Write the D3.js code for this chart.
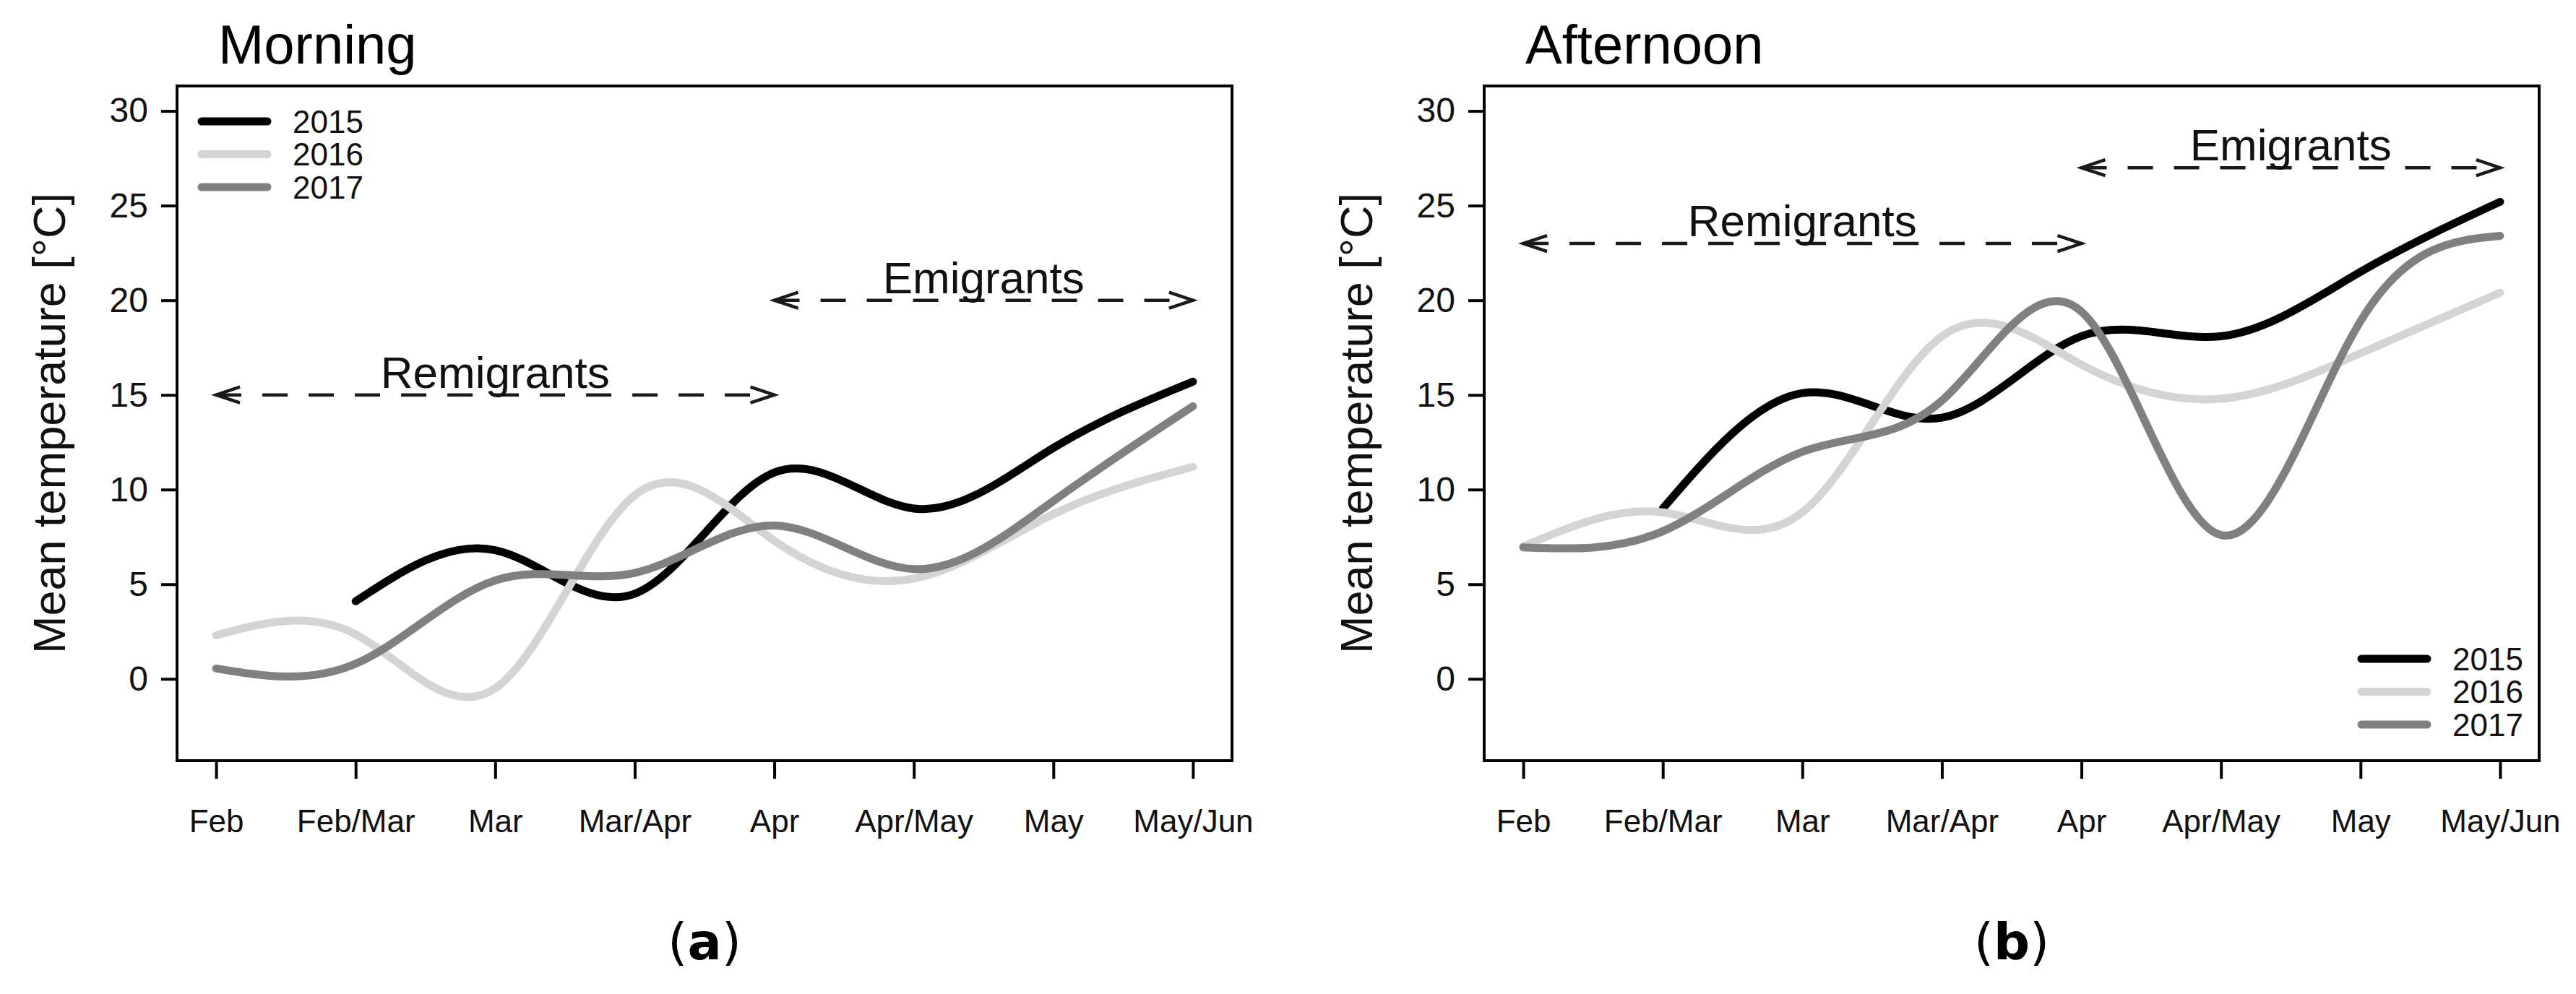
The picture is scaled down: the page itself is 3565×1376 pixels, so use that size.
<!DOCTYPE html>
<html>
<head>
<meta charset="utf-8">
<script src="https://cdn.jsdelivr.net/npm/d3@7"></script>
<style>
  html, body { margin: 0; padding: 0; background: #fff; }
  svg { display: block; }
</style>
</head>
<body>
<svg id="chart" width="3565" height="1376"></svg>
<script>
// ---------- data ----------
const categories = ["Feb", "Feb/Mar", "Mar", "Mar/Apr", "Apr", "Apr/May", "May", "May/Jun"];
const years = ["2015", "2016", "2017"];
const yTicks = [0, 5, 10, 15, 20, 25, 30];

const morning2015 = [null, 4.1, 6.8, 4.5, 10.9, 9.0, 12.2, 15.7];
const morning2016 = [2.3, 2.35, -0.5, 9.7, 7.3, 5.3, 8.7, 11.2];
const morning2017 = [0.55, 0.8, 5.2, 5.6, 8.1, 5.8, 9.4, 14.4];

const afternoon2015 = [null, 9.0, 15.1, 13.8, 18.1, 18.1, 21.5, 25.2];
const afternoon2016 = [7.0, 8.8, 8.8, 18.1, 16.6, 14.8, 17.2, 20.4];
const afternoon2017 = [6.95, 7.8, 12.0, 14.7, 19.4, 7.6, 18.9, 23.4];

// annotation arrows: [label, fromCategory, toCategory, yValue]
const morningArrows = [["Remigrants", "Feb", "Apr", 15], ["Emigrants", "Apr", "May/Jun", 20]];
const afternoonArrows = [["Remigrants", "Feb", "Apr", 23], ["Emigrants", "Apr", "May/Jun", 27]];

const yearColors = ["#000000", "#d4d4d4", "#808080"];

// ---------- drawing ----------
const svg = d3.select("#chart");
const FONT = "'Liberation Sans', Arial, Helvetica, sans-serif";

const panels = [
  { title: "Morning", tag: "a", x0: 245, series: [morning2015, morning2016, morning2017],
    arrows: morningArrows, legend: "topleft" },
  { title: "Afternoon", tag: "b", x0: 2054, series: [afternoon2015, afternoon2016, afternoon2017],
    arrows: afternoonArrows, legend: "bottomright" }
];

const boxW = 1460, boxTop = 119, boxBottom = 1053;

panels.forEach(p => {
  const g = svg.append("g");
  const x = d3.scalePoint().domain(categories).range([p.x0, p.x0 + boxW]).padding(0.28);
  const y = d3.scaleLinear().domain([-4.32, 31.32]).range([boxBottom, boxTop]);

  // title
  g.append("text")
    .attr("x", p.x0 + 57).attr("y", 88)
    .attr("font-family", FONT).attr("font-size", 76).attr("fill", "#000")
    .text(p.title);

  // y axis
  const yAxis = g.append("g")
    .attr("transform", `translate(${p.x0},0)`)
    .call(d3.axisLeft(y).tickValues(yTicks).tickSize(22).tickPadding(18));
  yAxis.select(".domain").remove();
  yAxis.selectAll(".tick line").attr("stroke", "#000").attr("stroke-width", 4);
  yAxis.selectAll(".tick text")
    .attr("font-family", FONT).attr("font-size", 48).attr("fill", "#111");

  // x axis
  const xAxis = g.append("g")
    .attr("transform", `translate(0,${boxBottom})`)
    .call(d3.axisBottom(x).tickSize(25).tickPadding(0));
  xAxis.select(".domain").remove();
  xAxis.selectAll(".tick line").attr("stroke", "#000").attr("stroke-width", 4);
  xAxis.selectAll(".tick text")
    .attr("font-family", FONT).attr("font-size", 44).attr("fill", "#111")
    .attr("y", 99).attr("dy", 0);

  // y label
  g.append("text")
    .attr("transform", `translate(${p.x0 - 177},${(boxTop + boxBottom) / 2}) rotate(-90)`)
    .attr("text-anchor", "middle").attr("dominant-baseline", "central")
    .attr("font-family", FONT).attr("font-size", 63).attr("fill", "#111")
    .text("Mean temperature [°C]");

  // series lines
  const line = d3.line()
    .x(d => x(d.c)).y(d => y(d.v))
    .curve(d3.curveNatural);
  p.series.forEach((vals, i) => {
    const pts = categories.map((c, k) => ({ c, v: vals[k] })).filter(d => d.v !== null);
    g.append("path")
      .attr("d", line(pts))
      .attr("fill", "none").attr("stroke", yearColors[i])
      .attr("stroke-width", 11).attr("stroke-linecap", "round").attr("stroke-linejoin", "round");
  });

  // annotation arrows
  p.arrows.forEach(([label, from, to, v]) => {
    const xa = x(from), xb = x(to), yy = y(v);
    g.append("line")
      .attr("x1", xa).attr("x2", xb).attr("y1", yy).attr("y2", yy)
      .attr("stroke", "#1a1a1a").attr("stroke-width", 4.5).attr("stroke-dasharray", "35,29");
    const hl = 33, hh = 11;
    g.append("path")
      .attr("d", `M${xa + hl},${yy - hh}L${xa},${yy}L${xa + hl},${yy + hh}`)
      .attr("fill", "none").attr("stroke", "#1a1a1a").attr("stroke-width", 4.5);
    g.append("path")
      .attr("d", `M${xb - hl},${yy - hh}L${xb},${yy}L${xb - hl},${yy + hh}`)
      .attr("fill", "none").attr("stroke", "#1a1a1a").attr("stroke-width", 4.5);
    g.append("text")
      .attr("x", (xa + xb) / 2).attr("y", yy - 10)
      .attr("text-anchor", "middle")
      .attr("font-family", FONT).attr("font-size", 62).attr("fill", "#111")
      .text(label);
  });

  // legend
  const rowGap = 45.5;
  let lx, ly;
  if (p.legend === "topleft") { lx = p.x0 + 34; ly = 168; }
  else { lx = p.x0 + 1214; ly = 912; }
  years.forEach((yr, i) => {
    const yy = ly + i * rowGap;
    g.append("line")
      .attr("x1", lx).attr("x2", lx + 91).attr("y1", yy).attr("y2", yy)
      .attr("stroke", yearColors[i]).attr("stroke-width", 11).attr("stroke-linecap", "round");
    g.append("text")
      .attr("x", lx + 126).attr("y", yy).attr("dy", "0.36em")
      .attr("font-family", FONT).attr("font-size", 44).attr("fill", "#111")
      .text(yr);
  });

  // box
  g.append("rect")
    .attr("x", p.x0).attr("y", boxTop).attr("width", boxW).attr("height", boxBottom - boxTop)
    .attr("fill", "none").attr("stroke", "#000").attr("stroke-width", 4);

  // sub-figure tag
  const tag = g.append("text")
    .attr("x", p.x0 + boxW / 2).attr("y", 1328)
    .attr("text-anchor", "middle")
    .attr("font-family", "'DejaVu Sans', sans-serif").attr("font-size", 70).attr("fill", "#000");
  tag.append("tspan").attr("font-weight", "normal").text("(");
  tag.append("tspan").attr("font-weight", "bold").text(p.tag);
  tag.append("tspan").attr("font-weight", "normal").text(")");
});
</script>
</body>
</html>
